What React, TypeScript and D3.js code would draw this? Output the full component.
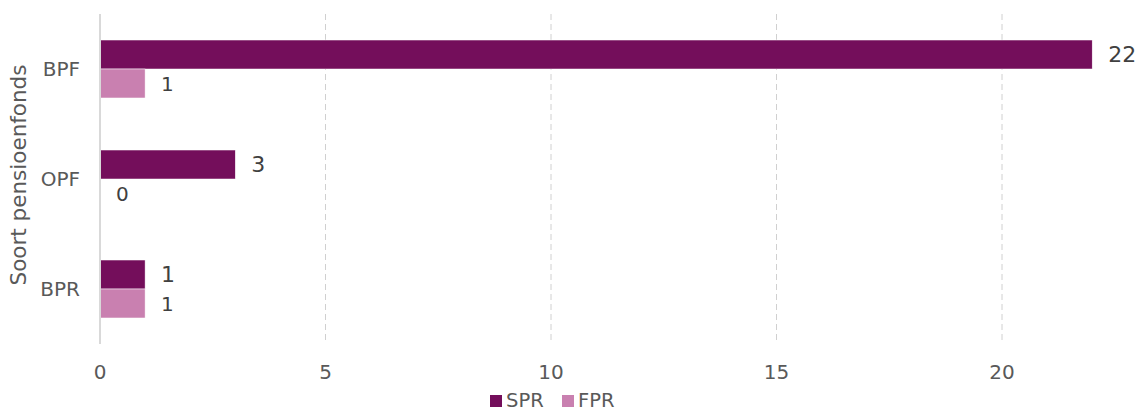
import React from "react";
import * as d3 from "d3";

const categories = ["BPF", "OPF", "BPR"];
const seriesNames = ["SPR", "FPR"];
const sprValues = [22, 3, 1];
const fprValues = [1, 0, 1];
const xTicks = [0, 5, 10, 15, 20];
const colors = ["#740e5b", "#c980b0"];

const W = 1137;
const H = 412;
const FONT = "'DejaVu Sans', Verdana, sans-serif";
const TEXT = "#595959";

export default function App() {
  const x = d3.scaleLinear().domain([0, 20]).range([100, 1002]);
  const y = d3.scaleBand<string>().domain(categories).range([14, 344]).paddingInner(0.473).paddingOuter(0.2365);
  const inner = d3.scaleBand<string>().domain(seriesNames).range([0, y.bandwidth()]);
  const series = [sprValues, fprValues];
  const labelSize = [22, 20];

  return (
    <svg width={W} height={H} style={{ position: "absolute", left: 0, top: 0 }}>
      {xTicks.filter((t) => t !== 0).map((t) => (
        <line key={t} x1={x(t)} x2={x(t)} y1={14} y2={344} stroke="#d0d0d0" strokeWidth={1} strokeDasharray="6,4" />
      ))}
      {categories.map((c, ci) =>
        series.map((vals, si) => {
          const v = vals[ci];
          const y0 = (y(c) as number) + (inner(seriesNames[si]) as number);
          return (
            <g key={c + si}>
              {v > 0 && (
                <rect x={x(0)} y={y0} width={x(v) - x(0)} height={inner.bandwidth()} fill={colors[si]} stroke="#fff" strokeWidth={0.5} />
              )}
              <text x={x(v) + 16} y={y0 + inner.bandwidth() / 2} dy="0.36em" fontFamily={FONT} fontSize={labelSize[si]} fill="#404040">
                {v}
              </text>
            </g>
          );
        })
      )}
      <line x1={x(0)} x2={x(0)} y1={14} y2={344} stroke="#d9d9d9" strokeWidth={2} />
      {xTicks.map((t) => (
        <text key={t} x={x(t)} y={371.5} dy="0.36em" textAnchor="middle" fontFamily={FONT} fontSize={20} fill={TEXT}>
          {t}
        </text>
      ))}
      {categories.map((c) => (
        <text key={c} x={80} y={(y(c) as number) + y.bandwidth() / 2} dy="0.36em" textAnchor="end" fontFamily={FONT} fontSize={20} fill={TEXT}>
          {c}
        </text>
      ))}
      <text transform={`translate(18,175) rotate(-90)`} dy="0.36em" textAnchor="middle" fontFamily={FONT} fontSize={21.5} fill={TEXT}>
        Soort pensioenfonds
      </text>
      <g>
        {seriesNames.map((s, i) => {
          const lx = [490, 562][i];
          return (
            <g key={s}>
              <rect x={lx} y={395} width={12} height={12} fill={colors[i]} />
              <text x={lx + 16} y={400} dy="0.36em" fontFamily={FONT} fontSize={19.5} fill={TEXT}>
                {s}
              </text>
            </g>
          );
        })}
      </g>
    </svg>
  );
}
